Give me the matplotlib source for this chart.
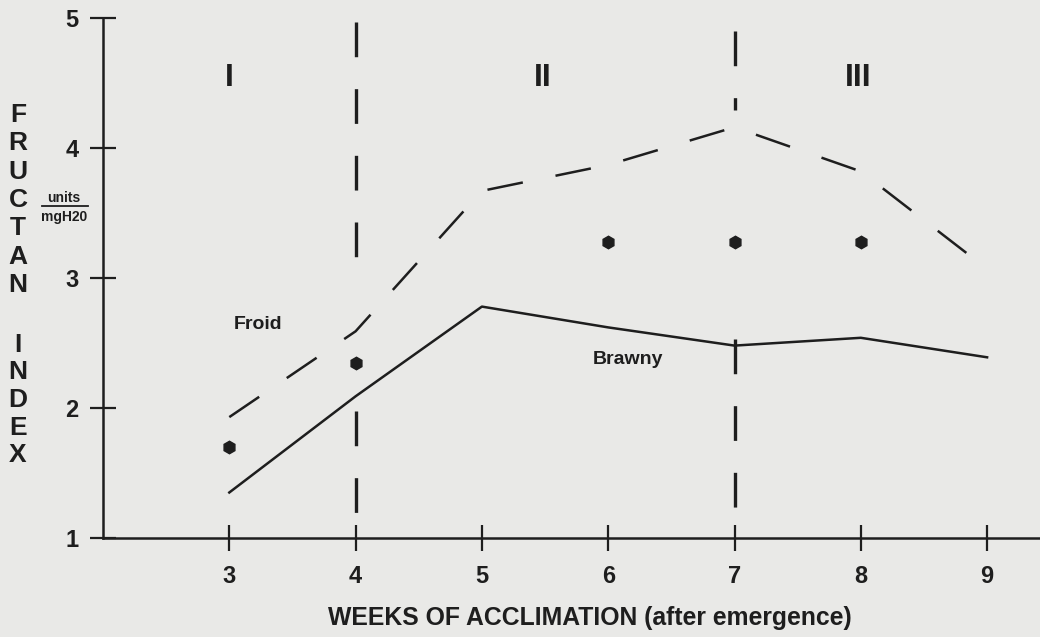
import numpy as np
import matplotlib
matplotlib.use('Agg')
import matplotlib.pyplot as plt

plt.rcParams['font.family'] = ['Liberation Sans', 'DejaVu Sans']
plt.rcParams['font.weight'] = 'bold'

# fructan index by week of acclimation
weeks = [3, 4, 5, 6, 7, 8, 9]
froid = [1.93, 2.59, 3.67, 3.87, 4.16, 3.82, 3.07]
brawny = [1.35, 2.09, 2.78, 2.62, 2.48, 2.54, 2.39]

# significance marks
star_weeks = [3, 4, 6, 7, 8]
star_vals = [1.70, 2.35, 3.28, 3.28, 3.28]

# phase dividers (drawn in pieces so they skip the curves)
divider_weeks = [4, 7]
divider_spans = [[(4.97, 3.10), (1.98, 1.0)], [(4.90, 4.29), (2.53, 1.0)]]
phases = ['I', 'II', 'III']
phase_x = [3.0, 5.48, 7.98]

y_letters = list('FRUCTAN') + list('INDEX')
y_letter_px = [115, 143, 172, 200, 228, 257, 285, 345, 372, 400, 428, 455]

W, H = 1040, 637
bg = '#e9e9e7'
ink = '#1e1e1e'

fig = plt.figure(figsize=(W / 100, H / 100), dpi=100, facecolor=bg)
ax = fig.add_axes([103 / W, 1 - 538 / H, (W - 103) / W, (538 - 18) / H])
ax.set_facecolor(bg)

ax.set_xlim(2, 2 + 937 / 126.3)
ax.set_ylim(1, 5)
for s in ['top', 'right']:
    ax.spines[s].set_visible(False)
for s in ['left', 'bottom']:
    ax.spines[s].set_linewidth(1.8)
    ax.spines[s].set_color(ink)

ax.set_xticks(weeks)
ax.set_yticks([1, 2, 3, 4, 5])
ax.tick_params(direction='inout', length=19, width=1.6, color=ink,
               labelsize=17, labelcolor=ink)
ax.tick_params(axis='x', pad=10)
ax.tick_params(axis='y', pad=8)

lw = 1.8
on, off = 26, 24
ax.plot(weeks, froid, color=ink, lw=lw, dashes=(on / lw, off / lw),
        solid_capstyle='butt', clip_on=False)
ax.plot(weeks, brawny, color=ink, lw=lw, clip_on=False)
ax.plot(star_weeks, star_vals, linestyle='none', marker='h', ms=9,
        color=ink)

vlw = 2.4
for wk, spans in zip(divider_weeks, divider_spans):
    for top, bot in spans:
        ax.plot([wk, wk], [top, bot], color=ink, lw=vlw,
                dashes=(25 / vlw, 23 / vlw), solid_capstyle='butt')

for txt, px in zip(phases, phase_x):
    ax.text(px, 4.54, txt, ha='center', va='center', fontsize=23,
            fontweight='bold', color=ink)

ax.text(3.23, 2.64, 'Froid', ha='center', va='center', fontsize=14,
        fontweight='bold', color=ink)
ax.text(6.16, 2.37, 'Brawny', ha='center', va='center', fontsize=14,
        fontweight='bold', color=ink)

for ch, py in zip(y_letters, y_letter_px):
    fig.text(18 / W, 1 - py / H, ch, ha='center', va='center',
             fontsize=19, color=ink)

fig.text(64 / W, 1 - 198 / H, 'units', ha='center', va='center',
         fontsize=10, fontweight='bold', color=ink)
fig.lines.append(plt.Line2D([42 / W, 88 / W], [1 - 206 / H, 1 - 206 / H],
                            transform=fig.transFigure, color=ink, lw=1.3))
fig.text(64 / W, 1 - 217 / H, 'mgH20', ha='center', va='center',
         fontsize=10, fontweight='bold', color=ink)

fig.text(590 / W, 1 - 618 / H, 'WEEKS OF ACCLIMATION (after emergence)',
         ha='center', va='center', fontsize=17.8, color=ink)

fig.savefig('out.png', dpi=100, facecolor=bg)
